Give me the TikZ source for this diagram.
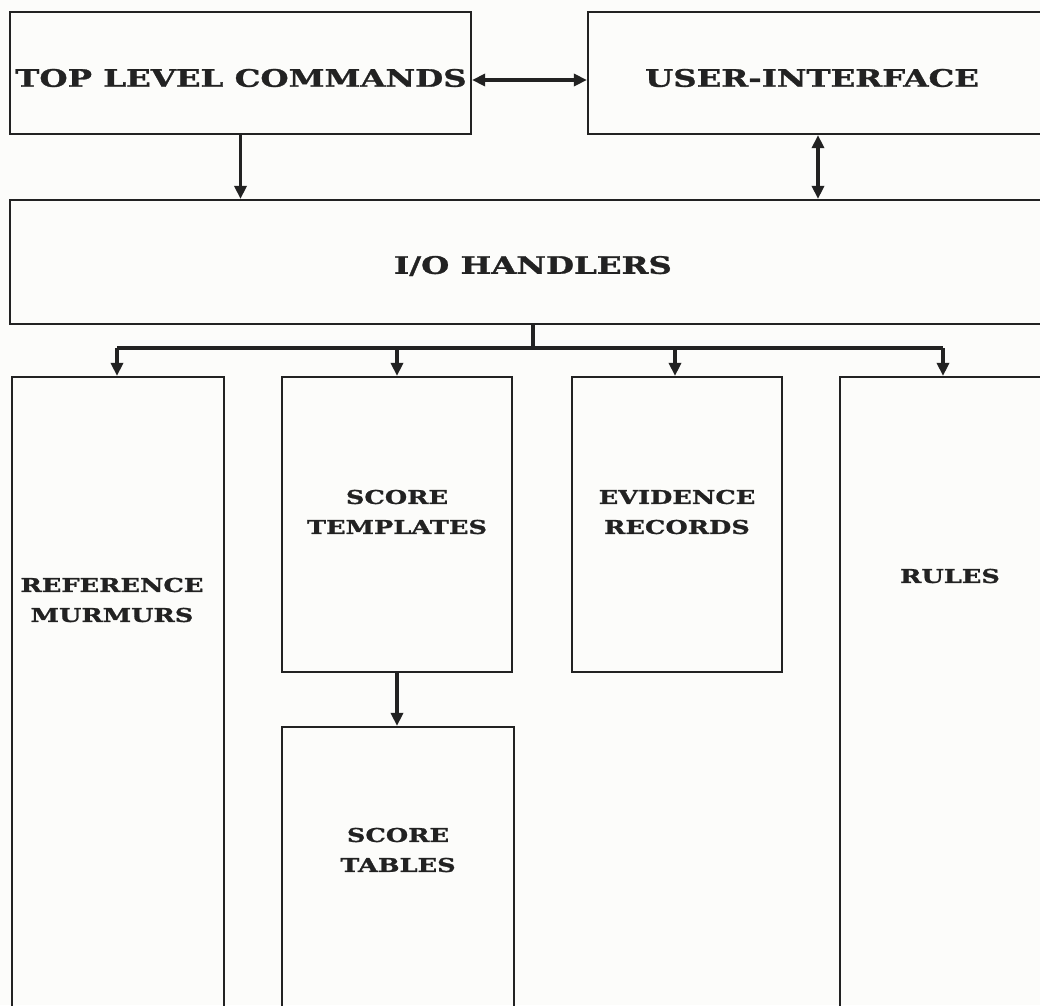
\documentclass[tikz,border=0pt]{standalone}
\usepackage{fontspec}
\newfontfamily\slab[FakeStretch=1.35, FakeBold=1.2]{DejaVu Serif Bold}
\usetikzlibrary{arrows.meta}
\definecolor{ink}{HTML}{222222}
\definecolor{paper}{HTML}{FCFCFA}
\begin{document}
\begin{tikzpicture}[x=1pt,y=-1pt,
  box/.style={draw=ink, line width=2.2pt, inner sep=0pt},
  big/.style={text=ink, font=\slab\fontsize{24}{28}\selectfont},
  small/.style={text=ink, align=center, font=\slab\fontsize{19}{30}\selectfont},
  arr/.style={draw=ink, line width=3.5pt, -{Triangle[length=13pt,width=12pt]}},
  dbl/.style={draw=ink, line width=3.5pt, {Triangle[length=13pt,width=12pt]}-{Triangle[length=13pt,width=12pt]}},
  bus/.style={draw=ink, line width=3.5pt}]
\fill[paper] (0,0) rectangle (1040,1005);
\useasboundingbox (0,0) rectangle (1040,1005);
\clip (0,0) rectangle (1040,1005);
% boxes
\node[box, minimum width=461pt, minimum height=122pt] (tlc) at (240.5,73) {};
\node[box, minimum width=460pt, minimum height=122pt] (ui) at (818,73) {};
\node[box, minimum width=1046pt, minimum height=124pt] (io) at (533,262) {};
\node[box, minimum width=212pt, minimum height=643pt] (rm) at (118,698.5) {};
\node[box, minimum width=230pt, minimum height=295pt] (st) at (397,524.5) {};
\node[box, minimum width=210pt, minimum height=295pt] (er) at (677,524.5) {};
\node[box, minimum width=220pt, minimum height=643pt] (ru) at (950,698.5) {};
\node[box, minimum width=232pt, minimum height=293pt] (stb) at (398,873.5) {};
% labels
\node[big] (tlcl) at (241,78) {TOP LEVEL COMMANDS};
\node[big] (uil) at (812,78) {USER-INTERFACE};
\node[big] (iol) at (533,266) {I/O HANDLERS};
\node[small] (rml) at (112,600) {REFERENCE\\MURMURS};
\node[small] (stl) at (397,512) {SCORE\\TEMPLATES};
\node[small] (erl) at (677,512) {EVIDENCE\\RECORDS};
\node[small] (rul) at (950,576) {RULES};
\node[small] (stbl) at (398,850) {SCORE\\TABLES};
% connectors
\coordinate (bar) at (0,348);
\draw[dbl] ([yshift=-7pt]tlc.east) -- ([yshift=-7pt]ui.west);
\draw[arr] (tlc.south) -- (tlc.south |- io.north);
\draw[dbl] (ui.south) -- (ui.south |- io.north);
\draw[bus] (io.south) -- (io.south |- bar);
\draw[bus] ([xshift=-1pt]rm.north |- bar) -- ([xshift=-7pt]ru.north |- bar);
\draw[arr] ([xshift=-1pt]rm.north |- bar) -- ([xshift=-1pt]rm.north);
\draw[arr] (st.north |- bar) -- (st.north);
\draw[arr] ([xshift=-2pt]er.north |- bar) -- ([xshift=-2pt]er.north);
\draw[arr] ([xshift=-7pt]ru.north |- bar) -- ([xshift=-7pt]ru.north);
\draw[arr] (st.south) -- (st.south |- stb.north);
\end{tikzpicture}
\end{document}
